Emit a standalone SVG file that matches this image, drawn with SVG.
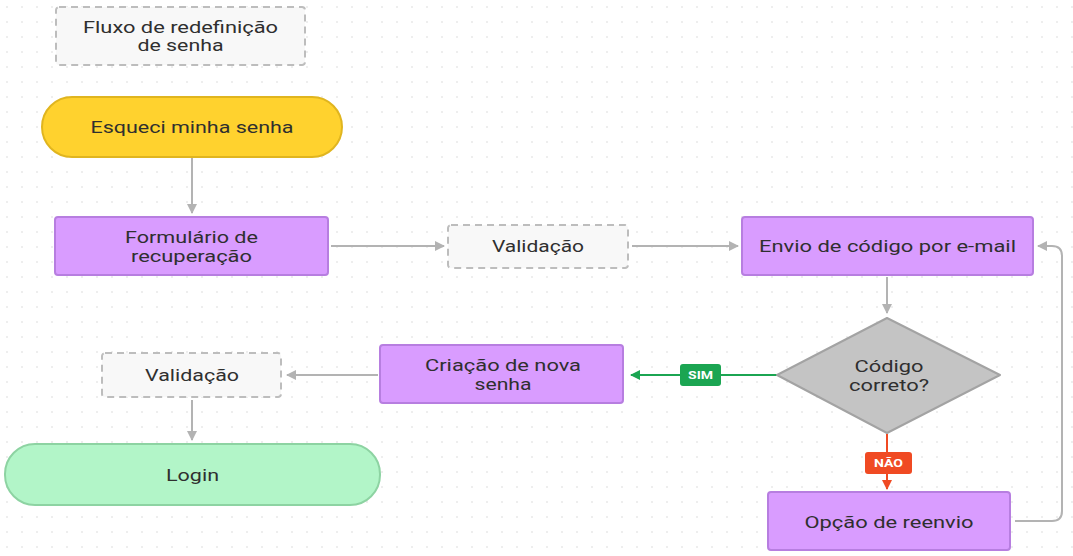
<svg xmlns="http://www.w3.org/2000/svg" width="1073" height="556" viewBox="0 0 1073 556">
<defs>
<pattern id="dots" width="15" height="15" patternUnits="userSpaceOnUse"><circle cx="7" cy="7" r="0.9" fill="#e6e6e6"/></pattern>
<marker id="ag" viewBox="0 0 10 10" refX="9" refY="5" markerWidth="5" markerHeight="5" orient="auto-start-reverse" markerUnits="strokeWidth"><path d="M0,0 L10,5 L0,10 z" fill="#b3b3b3"/></marker>
<marker id="agr" viewBox="0 0 10 10" refX="9" refY="5" markerWidth="5" markerHeight="5" orient="auto" markerUnits="strokeWidth"><path d="M0,0 L10,5 L0,10 z" fill="#1ba552"/></marker>
<marker id="ar" viewBox="0 0 10 10" refX="9" refY="5" markerWidth="5" markerHeight="5" orient="auto" markerUnits="strokeWidth"><path d="M0,0 L10,5 L0,10 z" fill="#f04a23"/></marker>
</defs>
<style>
text{font-family:Roboto,"Liberation Sans",sans-serif;font-size:16px;fill:#2f2f2f;text-anchor:middle}
.proc{fill:#d99cff;stroke:#b77ee0;stroke-width:2}
.dash{fill:#f8f8f8;stroke:#bdbdbd;stroke-width:2;stroke-dasharray:7 5}
.con{fill:none;stroke:#b3b3b3;stroke-width:2;marker-end:url(#ag)}
.lbl{font-size:11px;font-weight:bold;fill:#fff}
</style>
<rect width="1073" height="556" fill="#fff"/>
<rect width="1073" height="556" fill="url(#dots)"/>

<g id="connectors">
<line class="con" x1="192" y1="158" x2="192" y2="213"/>
<line class="con" x1="331" y1="246" x2="444" y2="246"/>
<line class="con" x1="632" y1="246" x2="738" y2="246"/>
<line class="con" x1="887" y1="277" x2="887" y2="313"/>
<path class="con" d="M1015,521 H1052 Q1062,521 1062,511 V256 Q1062,246 1052,246 H1038"/>
<line x1="777" y1="375" x2="631" y2="375" stroke="#1ba552" stroke-width="2" marker-end="url(#agr)"/>
<line x1="887" y1="434" x2="887" y2="489" stroke="#f04a23" stroke-width="2" marker-end="url(#ar)"/>
<line class="con" x1="378" y1="375" x2="287" y2="375"/>
<line class="con" x1="192" y1="400" x2="192" y2="440"/>
<g id="lbl-sim"><rect x="680" y="364" width="41" height="22" rx="3" fill="#1ba552"/><text class="lbl" x="700.5" y="379" textLength="25" lengthAdjust="spacingAndGlyphs">SIM</text></g>
<g id="lbl-nao"><rect x="865" y="452" width="47" height="22" rx="3" fill="#f04a23"/><text class="lbl" x="888.5" y="467" textLength="29" lengthAdjust="spacingAndGlyphs">NÃO</text></g>
</g>

<g id="title"><rect class="dash" x="56" y="7" width="249" height="58" rx="3"/><text x="180.5" y="33" textLength="195" lengthAdjust="spacingAndGlyphs">Fluxo de redefinição</text><text x="180.5" y="51" textLength="86" lengthAdjust="spacingAndGlyphs">de senha</text></g>
<g id="esqueci"><rect x="42" y="97" width="300" height="60" rx="30" fill="#ffd22e" stroke="#e0b51f" stroke-width="2"/><text x="192" y="133" textLength="203" lengthAdjust="spacingAndGlyphs">Esqueci minha senha</text></g>
<g id="formulario"><rect class="proc" x="55" y="217" width="273" height="58" rx="3"/><text x="191.5" y="243" textLength="133" lengthAdjust="spacingAndGlyphs">Formulário de</text><text x="191.5" y="262" textLength="121" lengthAdjust="spacingAndGlyphs">recuperação</text></g>
<g id="validacao1"><rect class="dash" x="448" y="225" width="180" height="43" rx="3"/><text x="538" y="252" textLength="92" lengthAdjust="spacingAndGlyphs">Validação</text></g>
<g id="envio"><rect class="proc" x="742" y="217" width="291" height="58" rx="3"/><text x="887.5" y="252" textLength="257" lengthAdjust="spacingAndGlyphs">Envio de código por e-mail</text></g>
<g id="decisao"><path d="M887,318 L1000,375 L887,433 L777,375 Z" fill="#c4c4c4" stroke="#a3a3a3" stroke-width="2" stroke-linejoin="round"/><text x="889" y="372" textLength="69" lengthAdjust="spacingAndGlyphs">Código</text><text x="889" y="391" textLength="80" lengthAdjust="spacingAndGlyphs">correto?</text></g>
<g id="criacao"><rect class="proc" x="380" y="345" width="243" height="58" rx="3"/><text x="503" y="371" textLength="156" lengthAdjust="spacingAndGlyphs">Criação de nova</text><text x="503" y="390" textLength="57" lengthAdjust="spacingAndGlyphs">senha</text></g>
<g id="validacao2"><rect class="dash" x="102" y="353" width="179" height="44" rx="3"/><text x="192" y="381" textLength="94" lengthAdjust="spacingAndGlyphs">Validação</text></g>
<g id="login"><rect x="5" y="444" width="375" height="61" rx="30" fill="#b2f5c8" stroke="#8dd3a2" stroke-width="2"/><text x="192.5" y="481" textLength="53" lengthAdjust="spacingAndGlyphs">Login</text></g>
<g id="opcao"><rect class="proc" x="768" y="492" width="242" height="58" rx="3"/><text x="889" y="528" textLength="169" lengthAdjust="spacingAndGlyphs">Opção de reenvio</text></g>
</svg>
